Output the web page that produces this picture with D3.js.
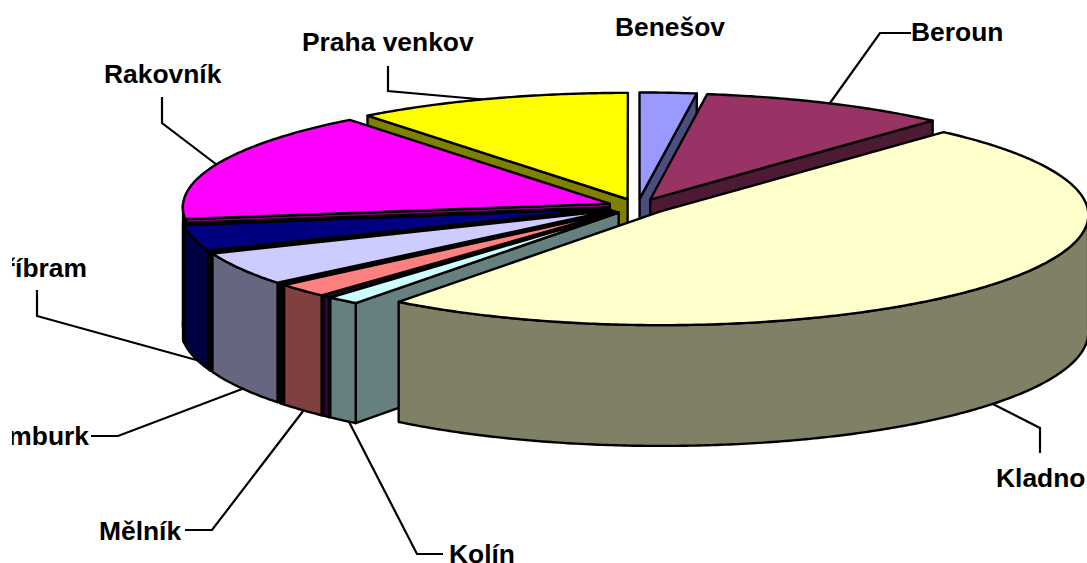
<!DOCTYPE html>
<html>
<head>
<meta charset="utf-8">
<script src="https://cdn.jsdelivr.net/npm/d3@7"></script>
<style>
  html, body { margin: 0; padding: 0; background: #fff; overflow: hidden; }
  svg { display: block; }
  .label { font-family: "Liberation Sans", Arial, sans-serif; font-weight: bold; font-size: 26.4px; fill: #000; }
  .leader { fill: none; stroke: #000; stroke-width: 2.2; }
  .face { stroke: #000; stroke-width: 2.4; stroke-linejoin: round; }
</style>
</head>
<body>
<div id="chart"></div>
<script>
const WIDTH = 1087
const HEIGHT = 563

// shares in percent, clockwise from 12 o'clock
const districts = ['Benešov', 'Beroun', 'Kladno', 'Kolín', 'Kutná Hora', 'Mělník', 'Mladá Boleslav', 'Nymburk', 'Praha západ', 'Příbram', 'ostatní', 'Rakovník', 'Praha venkov']
const shares = [2.2, 9.6, 48.15, 1.2, 0.3, 2.0, 0.15, 4.8, 0.15, 3.7, 0.2, 16.4, 10.7]
const colors = ['#9999ff', '#993366', '#ffffcc', '#ccffff', '#660066', '#ff8080', '#000000', '#ccccff', '#000000', '#000080', '#800080', '#ff00ff', '#ffff00']

const CENTER_X = 637.5
const CENTER_Y = 206.5
const RADIUS_X = 427
const RADIUS_Y = 110
const DEPTH = 117
const EXPLODE = 0.07
const PERSPECTIVE = 0.03

// label text position and the leader running from it to the pie
const labelLayout = {
  'Benešov': { x: 615, y: 36, anchor: 'start', leader: null },
  'Beroun': { x: 911, y: 41, anchor: 'start', leader: [[911, 33], [880, 33], [825, 110]] },
  'Kladno': { x: 996, y: 487, anchor: 'start', leader: [[1040, 453], [1040, 428], [985, 400]] },
  'Kolín': { x: 449, y: 563, anchor: 'start', leader: [[443, 554], [417, 554], [345, 414]] },
  'Mělník': { x: 99, y: 540, anchor: 'start', leader: [[185, 530], [212, 530], [310, 402]] },
  'Nymburk': { x: 89, y: 445, anchor: 'end', leader: [[91, 436], [118, 436], [250, 386]] },
  'Příbram': { x: 87, y: 277, anchor: 'end', leader: [[37, 290], [37, 316], [200, 361]] },
  'Rakovník': { x: 104, y: 83, anchor: 'start', leader: [[162, 97], [162, 123], [225, 171]] },
  'Praha venkov': { x: 302, y: 51, anchor: 'start', leader: [[388, 66], [388, 91], [500, 101]] }
}

const x = d3.scaleLinear().domain([-1, 1]).range([CENTER_X - RADIUS_X, CENTER_X + RADIUS_X])
const y = d3.scaleLinear().domain([-1, 1]).range([CENTER_Y + RADIUS_Y, CENTER_Y - RADIUS_Y])
const polygon = d3.line().curve(d3.curveLinear)

const svg = d3.select('#chart')
  .append('svg')
  .attr('width', WIDTH)
  .attr('height', HEIGHT)

svg.append('defs')
  .append('clipPath')
  .attr('id', 'labels-clip')
  .append('rect')
  .attr('x', 12)
  .attr('y', 0)
  .attr('width', WIDTH - 12)
  .attr('height', HEIGHT)

const gLeaders = svg.append('g').attr('class', 'leaders')
const gPie = svg.append('g').attr('class', 'pie')
const gLabels = svg.append('g').attr('class', 'labels').attr('clip-path', 'url(#labels-clip)')

const pie = d3.pie().sort(null).value((d, i) => shares[i])
const slices = pie(districts).map((d, i) => {
  const mid = (d.startAngle + d.endAngle) / 2
  return {
    name: districts[i],
    color: colors[i],
    start: d.startAngle,
    end: d.endAngle,
    mid,
    dx: Math.sin(mid) * EXPLODE,
    dy: Math.cos(mid) * EXPLODE
  }
})

// third value is the wall height at that point, nearer means taller
function project(u, v) {
  const s = 1 / (1 + PERSPECTIVE * v)
  return [x(u * s), y(v * s), DEPTH * s]
}

function rim(s, angle) {
  return project(s.dx + Math.sin(angle), s.dy + Math.cos(angle))
}

function tip(s) {
  return project(s.dx, s.dy)
}

function arcPoints(s, from, to) {
  const n = Math.max(2, Math.ceil((to - from) / 0.01))
  return d3.range(n + 1).map(k => rim(s, from + (to - from) * k / n))
}

function drop(points) {
  return points.map(p => [p[0], p[1] + p[2]]).reverse()
}

function sideColor(color) {
  const c = d3.rgb(color)
  return d3.rgb(c.r * 0.5, c.g * 0.5, c.b * 0.5).formatHex()
}

// back slices first, the big exploded slice always goes on top
const biggest = districts[shares.indexOf(d3.max(shares))]
const order = slices.slice().sort((a, b) => {
  if (a.name === biggest) return 1
  if (b.name === biggest) return -1
  return Math.cos(b.mid) - Math.cos(a.mid)
})

order.forEach(s => {
  const g = gPie.append('g').attr('class', 'slice')
  const side = sideColor(s.color)

  // cut faces, only the ones turned towards the viewer
  const faces = []
  if (Math.sin(s.start) < -0.001) faces.push(s.start)
  if (Math.sin(s.end) > 0.001) faces.push(s.end)
  faces.forEach(angle => {
    const edge = [tip(s), rim(s, angle)]
    g.append('path')
      .attr('class', 'face')
      .attr('fill', side)
      .attr('d', polygon(edge.concat(drop(edge))) + 'Z')
  })

  // outer wall, only the part that faces the viewer
  const from = Math.max(s.start, Math.PI / 2)
  const to = Math.min(s.end, Math.PI * 1.5)
  if (to > from) {
    const pts = arcPoints(s, from, to)
    g.append('path')
      .attr('class', 'face')
      .attr('fill', side)
      .attr('d', polygon(pts.concat(drop(pts))) + 'Z')
  }

  g.append('path')
    .attr('class', 'face')
    .attr('fill', s.color)
    .attr('d', polygon([tip(s)].concat(arcPoints(s, s.start, s.end))) + 'Z')
})

districts.filter(name => labelLayout[name]).forEach(name => {
  const l = labelLayout[name]
  if (l.leader) {
    gLeaders.append('path')
      .attr('class', 'leader')
      .attr('d', polygon(l.leader))
  }
  gLabels.append('text')
    .attr('class', 'label')
    .attr('x', l.x)
    .attr('y', l.y)
    .attr('text-anchor', l.anchor)
    .text(name)
})
</script>
</body>
</html>
